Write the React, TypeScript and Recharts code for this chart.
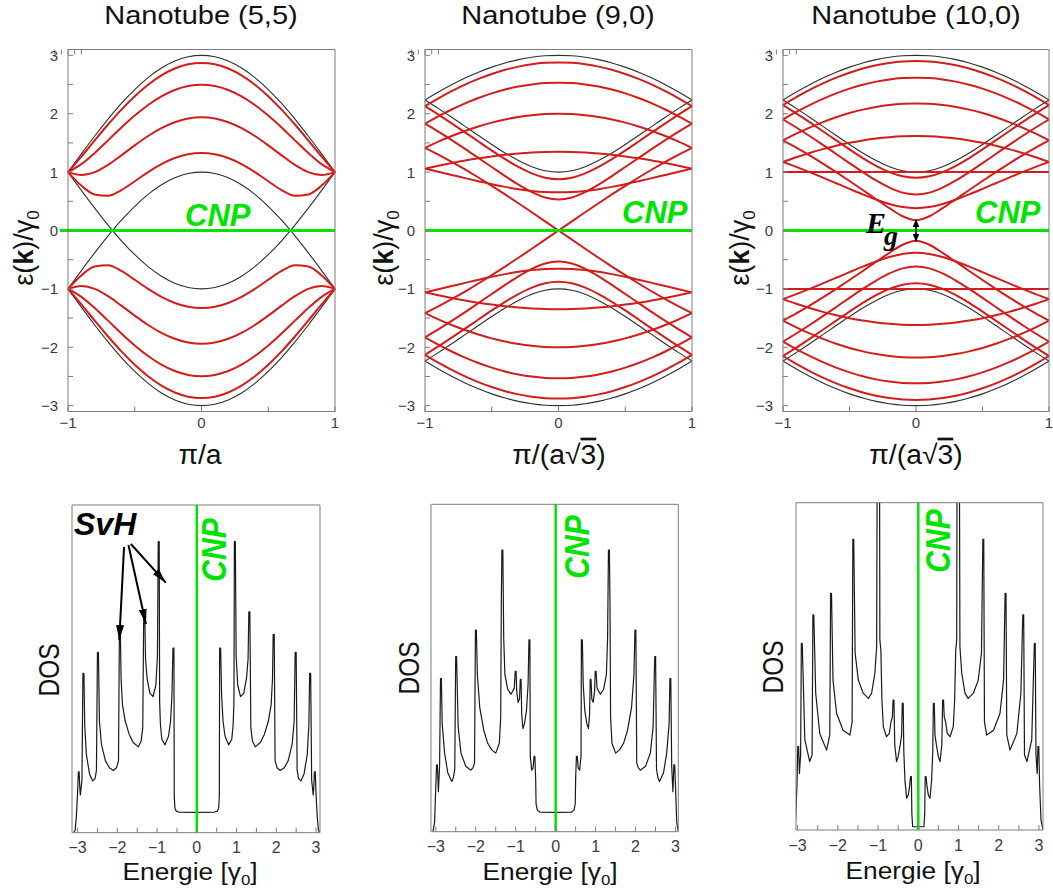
import React from "react"
import { LineChart, Line, XAxis, YAxis, ReferenceLine } from "recharts"

const SANS = "'Liberation Sans', Arial, Helvetica, sans-serif"
const SERIF = "'Liberation Serif', 'Times New Roman', serif"
const GREEN = "#00e400"
const RED = "#d41c1c"
const FRAME = "#7d7d7d"

// k samples on the half zone (bands are symmetric in k, valence = -conduction)
const kHalf = [0, 0.1, 0.2, 0.3, 0.4, 0.5, 0.6, 0.7, 0.8, 0.9, 1]
const bandTicksX = [-1, -0.5, 0, 0.5, 1]
const bandTicksY = [-3, -2.5, -2, -1.5, -1, -0.5, 0, 0.5, 1, 1.5, 2, 2.5, 3]
const dosTicks = [-3, -2.5, -2, -1.5, -1, -0.5, 0, 0.5, 1, 1.5, 2, 2.5, 3]

// Nanotube (5,5)
const black55 = [
  [3, 2.975, 2.902, 2.782, 2.618, 2.414, 2.176, 1.908, 1.618, 1.313, 1],
  [1, 0.975, 0.902, 0.782, 0.618, 0.414, 0.176, -0.092, -0.382, -0.687, -1],
]
const red55 = [
  [2.87, 2.846, 2.774, 2.657, 2.497, 2.3, 2.07, 1.815, 1.543, 1.266, 1],
  [2.497, 2.474, 2.407, 2.297, 2.149, 1.968, 1.763, 1.544, 1.328, 1.136, 1],
  [1.94, 1.919, 1.855, 1.754, 1.618, 1.458, 1.287, 1.124, 1, 0.951, 1],
  [1.328, 1.306, 1.241, 1.137, 1, 0.844, 0.693, 0.596, 0.618, 0.769, 1],
]

// black envelope used in both zigzag panels
const blackZig = [
  [3, 2.992, 2.967, 2.926, 2.87, 2.798, 2.711, 2.611, 2.497, 2.372, 2.236],
  [1, 1.024, 1.093, 1.198, 1.328, 1.474, 1.628, 1.784, 1.94, 2.092, 2.236],
]

// Nanotube (9,0)
const red90 = [
  [2.879, 2.871, 2.847, 2.807, 2.752, 2.681, 2.596, 2.498, 2.386, 2.263, 2.129],
  [2.532, 2.525, 2.502, 2.465, 2.414, 2.348, 2.269, 2.177, 2.072, 1.956, 1.829],
  [2, 1.994, 1.975, 1.945, 1.902, 1.848, 1.782, 1.705, 1.618, 1.521, 1.414],
  [1.347, 1.344, 1.335, 1.319, 1.297, 1.269, 1.236, 1.198, 1.155, 1.109, 1.059],
  [0.653, 0.659, 0.678, 0.708, 0.747, 0.793, 0.844, 0.897, 0.952, 1.006, 1.059],
  [0, 0.157, 0.313, 0.467, 0.618, 0.765, 0.908, 1.045, 1.176, 1.299, 1.414],
  [0.532, 0.566, 0.658, 0.786, 0.932, 1.087, 1.243, 1.399, 1.549, 1.693, 1.829],
  [0.879, 0.905, 0.978, 1.088, 1.221, 1.369, 1.524, 1.681, 1.836, 1.986, 2.129],
]

// Nanotube (10,0)
const red100 = [
  [2.902, 2.894, 2.87, 2.83, 2.774, 2.703, 2.618, 2.519, 2.407, 2.283, 2.149],
  [2.618, 2.61, 2.588, 2.55, 2.497, 2.43, 2.349, 2.255, 2.149, 2.031, 1.902],
  [2.176, 2.169, 2.149, 2.116, 2.07, 2.011, 1.94, 1.857, 1.763, 1.658, 1.543],
  [1.618, 1.613, 1.599, 1.576, 1.543, 1.502, 1.452, 1.394, 1.328, 1.255, 1.176],
  [1, 1, 1, 1, 1, 1, 1, 1, 1, 1, 1],
  [0.382, 0.401, 0.454, 0.53, 0.618, 0.713, 0.81, 0.906, 1, 1.09, 1.176],
  [0.176, 0.244, 0.382, 0.536, 0.693, 0.848, 1, 1.147, 1.287, 1.419, 1.543],
  [0.618, 0.649, 0.735, 0.857, 1, 1.153, 1.31, 1.466, 1.618, 1.764, 1.902],
  [0.902, 0.928, 1, 1.108, 1.241, 1.389, 1.543, 1.7, 1.855, 2.006, 2.149],
]

// DOS, E >= 0 half (curves are symmetric around the CNP); spike tops given as two points
const dos55E = [0, 0.45, 0.52, 0.55, 0.567, 0.575, 0.6, 0.625, 0.66, 0.71, 0.8, 0.88, 0.915, 0.935, 0.946, 0.97, 0.99, 1.03, 1.1, 1.18, 1.25, 1.29, 1.31, 1.335, 1.36, 1.4, 1.47, 1.6, 1.7, 1.8, 1.87, 1.905, 1.922, 1.948, 1.97, 2.02, 2.1, 2.2, 2.3, 2.4, 2.45, 2.475, 2.5, 2.525, 2.56, 2.62, 2.7, 2.78, 2.82, 2.84, 2.865, 2.89, 2.93, 2.945, 2.96, 2.98, 3.0, 3.03, 3.06, 3.1]
const dos55D = [0.62, 0.63, 0.66, 0.75, 1.1, 5.63, 5.63, 4.2, 3.4, 2.95, 2.68, 2.85, 3.3, 4.0, 8.88, 8.88, 5.4, 4.5, 4.15, 4.25, 4.7, 5.3, 6.74, 6.74, 3.2, 2.8, 2.62, 2.75, 3.0, 3.4, 3.9, 4.7, 6.05, 6.05, 2.2, 1.98, 1.9, 1.98, 2.2, 2.7, 3.4, 5.5, 5.5, 1.9, 1.65, 1.58, 1.8, 2.4, 3.3, 4.86, 4.86, 1.6, 1.15, 1.4, 1.86, 1.86, 1.2, 0.5, 0.08, 0]

const dos90E = [0, 0.4, 0.46, 0.49, 0.5, 0.52, 0.54, 0.565, 0.6, 0.635, 0.645, 0.668, 0.69, 0.73, 0.78, 0.82, 0.85, 0.865, 0.885, 0.905, 0.94, 0.975, 0.99, 1.012, 1.035, 1.07, 1.12, 1.2, 1.27, 1.3, 1.322, 1.345, 1.36, 1.375, 1.41, 1.5, 1.6, 1.7, 1.8, 1.9, 1.96, 1.985, 2.008, 2.03, 2.07, 2.12, 2.25, 2.37, 2.44, 2.48, 2.502, 2.525, 2.56, 2.6, 2.7, 2.78, 2.84, 2.86, 2.882, 2.905, 2.935, 2.96, 2.98, 3.0, 3.03, 3.07]
const dos90D = [0.59, 0.6, 0.66, 0.85, 1.6, 2.3, 2.3, 1.95, 1.88, 2.3, 5.86, 5.86, 4.5, 3.7, 3.3, 3.15, 3.6, 4.65, 4.65, 4.05, 3.95, 4.3, 4.9, 4.9, 4.4, 4.3, 4.2, 4.35, 4.8, 5.9, 8.6, 8.6, 7.0, 3.5, 2.7, 2.4, 2.5, 2.7, 3.1, 3.8, 4.8, 6.16, 6.16, 2.1, 1.95, 1.88, 2.0, 2.4, 3.2, 5.35, 5.35, 1.9, 1.65, 1.53, 1.8, 2.4, 3.3, 4.68, 4.68, 2.0, 1.22, 2.04, 2.04, 1.4, 0.3, 0]

const dos100E = [0, 0.14, 0.16, 0.172, 0.192, 0.215, 0.25, 0.29, 0.33, 0.36, 0.375, 0.397, 0.415, 0.45, 0.5, 0.54, 0.585, 0.605, 0.627, 0.645, 0.68, 0.72, 0.79, 0.87, 0.905, 0.93, 0.955, 0.965, 1.02, 1.035, 1.08, 1.16, 1.24, 1.37, 1.49, 1.57, 1.605, 1.627, 1.645, 1.7, 1.87, 2.03, 2.12, 2.158, 2.18, 2.2, 2.28, 2.45, 2.55, 2.598, 2.62, 2.64, 2.7, 2.82, 2.885, 2.907, 2.925, 2.955, 2.975, 2.995, 3.015, 3.05, 3.1]
const dos100D = [0.1, 0.1, 0.5, 1.63, 1.63, 1.35, 1.07, 0.97, 1.5, 2.4, 3.87, 3.87, 2.9, 2.6, 2.24, 2.09, 2.6, 3.97, 3.97, 3.45, 3.3, 2.95, 2.85, 3.16, 4.0, 5.5, 5.8, 12, 12, 5.6, 4.79, 4.18, 4.02, 4.18, 4.58, 5.4, 8.88, 8.88, 3.3, 2.9, 3.05, 3.56, 4.58, 7.23, 7.23, 2.9, 2.44, 2.95, 4.18, 6.57, 6.57, 2.3, 2.09, 2.75, 5.7, 5.7, 2.3, 1.73, 2.55, 2.55, 1.4, 0.3, 0]

const kAll = [...kHalf.slice(1).reverse().map((k) => -k), ...kHalf]

function bandRows(black: number[][], red: number[][]) {
  const mid = kHalf.length - 1
  return kAll.map((k, i) => {
    const h = Math.abs(i - mid)
    const row: Record<string, number> = { k }
    black.forEach((b, j) => {
      row[`b${j}`] = b[h]
      row[`bn${j}`] = -b[h]
    })
    red.forEach((b, j) => {
      row[`r${j}`] = b[h]
      row[`rn${j}`] = -b[h]
    })
    return row
  })
}

function dosRows(e: number[], d: number[]) {
  const rows: { e: number; d: number }[] = []
  for (let i = e.length - 1; i > 0; i--) rows.push({ e: -e[i], d: d[i] })
  for (let i = 0; i < e.length; i++) rows.push({ e: e[i], d: d[i] })
  return rows
}

const minus = (v: number) => (v < 0 ? `\u2212${Math.abs(v)}` : `${v}`)

// inward tick marks + outside labels
const tickLeft = (gap: number, size: number) => (p: any) => {
  const v = p.payload.value
  const ax = p.x + gap
  return (
    <g>
      <line x1={ax} x2={ax + 5} y1={p.y} y2={p.y} stroke={FRAME} />
      {Number.isInteger(v) && (
        <text x={p.x} y={p.y} dy={size * 0.36} textAnchor="end" fontSize={size} fontFamily={SANS} fill="#3c3c3c">
          {minus(v)}
        </text>
      )}
    </g>
  )
}
const tickRight = (gap: number) => (p: any) => (
  <line x1={p.x - gap} x2={p.x - gap - 5} y1={p.y} y2={p.y} stroke={FRAME} />
)
const tickBottom = (gap: number, size: number) => (p: any) => {
  const v = p.payload.value
  const ay = p.y - gap
  return (
    <g>
      <line x1={p.x} x2={p.x} y1={ay} y2={ay - 5} stroke={FRAME} />
      {Number.isInteger(v) && (
        <text x={p.x} y={p.y} dy={size * 0.72} textAnchor="middle" fontSize={size} fontFamily={SANS} fill="#3c3c3c">
          {minus(v)}
        </text>
      )}
    </g>
  )
}
const tickTop = (gap: number) => (p: any) => (
  <line x1={p.x} x2={p.x} y1={p.y + gap} y2={p.y + gap + 5} stroke={FRAME} />
)

function BandPanel({ boxL, boxR, black, red, straight = [], cnpFrom = -1, children }: any) {
  const rows = bandRows(black, red)
  const ML = 62
  const MR = 4
  const H = 440
  const TOP = 49.5
  const BOT = 411.5
  const lines: React.ReactNode[] = []
  black.forEach((_: number[], j: number) => {
    lines.push(<Line key={`b${j}`} dataKey={`b${j}`} type="monotone" stroke="#2e2e2e" strokeWidth={1.1} dot={false} isAnimationActive={false} />)
    lines.push(<Line key={`bn${j}`} dataKey={`bn${j}`} type="monotone" stroke="#2e2e2e" strokeWidth={1.1} dot={false} isAnimationActive={false} />)
  })
  red.forEach((_: number[], j: number) => {
    const t = straight.includes(j) ? "linear" : "monotone"
    lines.push(<Line key={`r${j}`} dataKey={`r${j}`} type={t} stroke={RED} strokeWidth={2} dot={false} isAnimationActive={false} />)
    lines.push(<Line key={`rn${j}`} dataKey={`rn${j}`} type={t} stroke={RED} strokeWidth={2} dot={false} isAnimationActive={false} />)
  })
  return (
    <div style={{ position: "absolute", left: boxL - ML, top: 0 }}>
      <LineChart width={ML + boxR - boxL + MR} height={H} data={rows} margin={{ top: TOP - 1, right: 0, bottom: H - BOT - 1, left: 0 }}>
        <XAxis dataKey="k" type="number" domain={[-1, 1]} ticks={bandTicksX} interval={0} height={1} tickSize={0} tickMargin={6} tickLine={false} axisLine={{ stroke: FRAME }} tick={tickBottom(6, 15)} />
        <XAxis xAxisId="top" orientation="top" type="number" domain={[-1, 1]} ticks={bandTicksX} interval={0} height={1} tickSize={0} tickMargin={0} tickLine={false} axisLine={{ stroke: FRAME }} tick={tickTop(0)} />
        <YAxis type="number" domain={[-3.1, 3.1]} ticks={bandTicksY} interval={0} width={ML} tickSize={0} tickMargin={10} tickLine={false} axisLine={{ stroke: FRAME }} tick={tickLeft(10, 15)} />
        <YAxis yAxisId="right" orientation="right" type="number" domain={[-3.1, 3.1]} ticks={bandTicksY} interval={0} width={MR} tickSize={0} tickMargin={0} tickLine={false} axisLine={{ stroke: FRAME }} tick={tickRight(0)} />
        {lines}
        <ReferenceLine segment={[{ x: cnpFrom, y: 0 }, { x: 1, y: 0 }]} stroke={GREEN} strokeWidth={3} ifOverflow="visible" />
        {children}
      </LineChart>
    </div>
  )
}

function DosPanel({ boxL, boxR, boxT, boxB, domain, e, d, children }: any) {
  const rows = dosRows(e, d)
  const ML = 40
  const MR = 12
  const TOP = 480
  const H = 412
  return (
    <div style={{ position: "absolute", left: boxL - ML, top: TOP }}>
      <LineChart width={ML + boxR - boxL + MR} height={H} data={rows} margin={{ top: boxT - TOP - 1, right: 0, bottom: TOP + H - boxB - 1, left: 0 }}>
        <XAxis dataKey="e" type="number" domain={domain} allowDataOverflow ticks={dosTicks} interval={0} height={1} tickSize={0} tickMargin={9} tickLine={false} axisLine={{ stroke: FRAME }} tick={tickBottom(9, 16)} />
        <XAxis xAxisId="top" orientation="top" type="number" domain={domain} allowDataOverflow height={1} tick={false} tickLine={false} axisLine={{ stroke: FRAME }} />
        <YAxis type="number" domain={[0, 10]} allowDataOverflow width={ML} tick={false} tickLine={false} axisLine={{ stroke: FRAME }} />
        <YAxis yAxisId="right" orientation="right" type="number" domain={[0, 10]} width={MR} tick={false} tickLine={false} axisLine={{ stroke: FRAME }} />
        <Line dataKey="d" type="linear" stroke="#1a1a1a" strokeWidth={1.2} strokeLinejoin="round" dot={false} isAnimationActive={false} />
        <ReferenceLine x={0} stroke={GREEN} strokeWidth={2.5} />
        {children}
      </LineChart>
    </div>
  )
}

function Txt({ x, y, sx = 1, rot = 0, anchor = "middle", size, weight, italic, fill = "#111", family = SANS, children }: any) {
  return (
    <g transform={`translate(${x},${y}) scale(${sx},1)${rot ? ` rotate(${rot})` : ""}`}>
      <text x={0} y={0} textAnchor={anchor} fontSize={size} fontWeight={weight} fontStyle={italic ? "italic" : undefined} fill={fill} fontFamily={family}>
        {children}
      </text>
    </g>
  )
}

const epsLabel = (
  <>
    ε(<tspan fontWeight="bold">k</tspan>)/γ<tspan fontSize={17} dy={6}>0</tspan>
  </>
)
const zigLabel = (
  <>
    π/(a√<tspan textDecoration="overline">3</tspan>)
  </>
)
const energieLabel = (
  <>
    Energie [γ<tspan fontSize={15} dy={5}>0</tspan>
    <tspan dy={-5}>]</tspan>
  </>
)

export default function App() {
  return (
    <div style={{ position: "absolute", left: 0, top: 0, width: 1053, height: 892, background: "#fff", overflow: "hidden" }}>
      <BandPanel boxL={68} boxR={335} black={black55} red={red55} cnpFrom={-1.06} />
      <BandPanel boxL={425} boxR={692} black={blackZig} red={red90} straight={[5]} />
      <BandPanel boxL={783} boxR={1049} black={blackZig} red={red100}>
        <ReferenceLine segment={[{ x: 0, y: 0.19 }, { x: 0, y: -0.19 }]} stroke="#000" strokeWidth={1.6} markerStart="url(#eg-head)" markerEnd="url(#eg-head)" />
      </BandPanel>

      <DosPanel boxL={72} boxR={320} boxT={505} boxB={832.7} domain={[-3.14, 3.1]} e={dos55E} d={dos55D}>
        <ReferenceLine segment={[{ x: -1.83, y: 8.72 }, { x: -1.95, y: 5.88 }]} stroke="#000" strokeWidth={2} markerEnd="url(#svh-head)" ifOverflow="visible" />
        <ReferenceLine segment={[{ x: -1.72, y: 8.78 }, { x: -1.28, y: 6.37 }]} stroke="#000" strokeWidth={2} markerEnd="url(#svh-head)" ifOverflow="visible" />
        <ReferenceLine segment={[{ x: -1.66, y: 8.81 }, { x: -0.78, y: 7.63 }]} stroke="#000" strokeWidth={2} markerEnd="url(#svh-head)" ifOverflow="visible" />
      </DosPanel>
      <DosPanel boxL={431} boxR={678.3} boxT={504.3} boxB={831.7} domain={[-3.12, 3.07]} e={dos90E} d={dos90D} />
      <DosPanel boxL={795.7} boxR={1042.7} boxT={502.7} boxB={830} domain={[-3.04, 3.1]} e={dos100E} d={dos100D} />

      <svg width={1053} height={892} style={{ position: "absolute", left: 0, top: 0, pointerEvents: "none" }}>
        <defs>
          <marker id="svh-head" viewBox="0 0 15 8" refX={15} refY={4} markerWidth={15} markerHeight={8} markerUnits="userSpaceOnUse" orient="auto">
            <path d="M0,0 L15,4 L0,8 z" fill="#000" />
          </marker>
          <marker id="eg-head" viewBox="0 0 8 7" refX={8} refY={3.5} markerWidth={8} markerHeight={7} markerUnits="userSpaceOnUse" orient="auto-start-reverse">
            <path d="M0,0 L8,3.5 L0,7 z" fill="#000" />
          </marker>
        </defs>

        <Txt x={201} y={23.5} sx={1.16} size={25}>Nanotube (5,5)</Txt>
        <Txt x={558} y={23.5} sx={1.16} size={25}>Nanotube (9,0)</Txt>
        <Txt x={916} y={23.5} sx={1.16} size={25}>Nanotube (10,0)</Txt>

        <Txt x={33} y={248} rot={-90} size={27}>{epsLabel}</Txt>
        <Txt x={393} y={248} rot={-90} size={27}>{epsLabel}</Txt>
        <Txt x={749} y={248} rot={-90} size={27}>{epsLabel}</Txt>

        <Txt x={200} y={464} sx={1.05} size={27}>π/a</Txt>
        <Txt x={559} y={464} sx={1.05} size={27}>{zigLabel}</Txt>
        <Txt x={916} y={464} sx={1.05} size={27}>{zigLabel}</Txt>

        <Txt x={185} y={226} anchor="start" size={31} weight="bold" italic fill={GREEN}>CNP</Txt>
        <Txt x={622} y={223} anchor="start" size={31} weight="bold" italic fill={GREEN}>CNP</Txt>
        <Txt x={975} y={223} anchor="start" size={31} weight="bold" italic fill={GREEN}>CNP</Txt>

        <Txt x={866} y={233} anchor="start" size={30} weight="bold" italic family={SERIF} fill="#000">E</Txt>
        <Txt x={884} y={245} anchor="start" size={28} weight="bold" italic family={SERIF} fill="#000">g</Txt>

        <Txt x={59} y={670} sx={1.18} rot={-90} size={24.5}>DOS</Txt>
        <Txt x={419} y={668} sx={1.18} rot={-90} size={24.5}>DOS</Txt>
        <Txt x={783} y={667} sx={1.18} rot={-90} size={24.5}>DOS</Txt>

        <Txt x={190} y={880} sx={1.12} size={23.5}>{energieLabel}</Txt>
        <Txt x={550} y={880} sx={1.12} size={23.5}>{energieLabel}</Txt>
        <Txt x={913} y={879} sx={1.12} size={23.5}>{energieLabel}</Txt>

        <Txt x={226} y={550} sx={1.15} rot={-90} size={30} weight="bold" italic fill={GREEN}>CNP</Txt>
        <Txt x={589} y={547} sx={1.15} rot={-90} size={30} weight="bold" italic fill={GREEN}>CNP</Txt>
        <Txt x={950} y={541} sx={1.15} rot={-90} size={30} weight="bold" italic fill={GREEN}>CNP</Txt>

        <Txt x={74} y={535} anchor="start" size={32} weight="bold" italic fill="#000">SvH</Txt>
      </svg>
    </div>
  )
}
